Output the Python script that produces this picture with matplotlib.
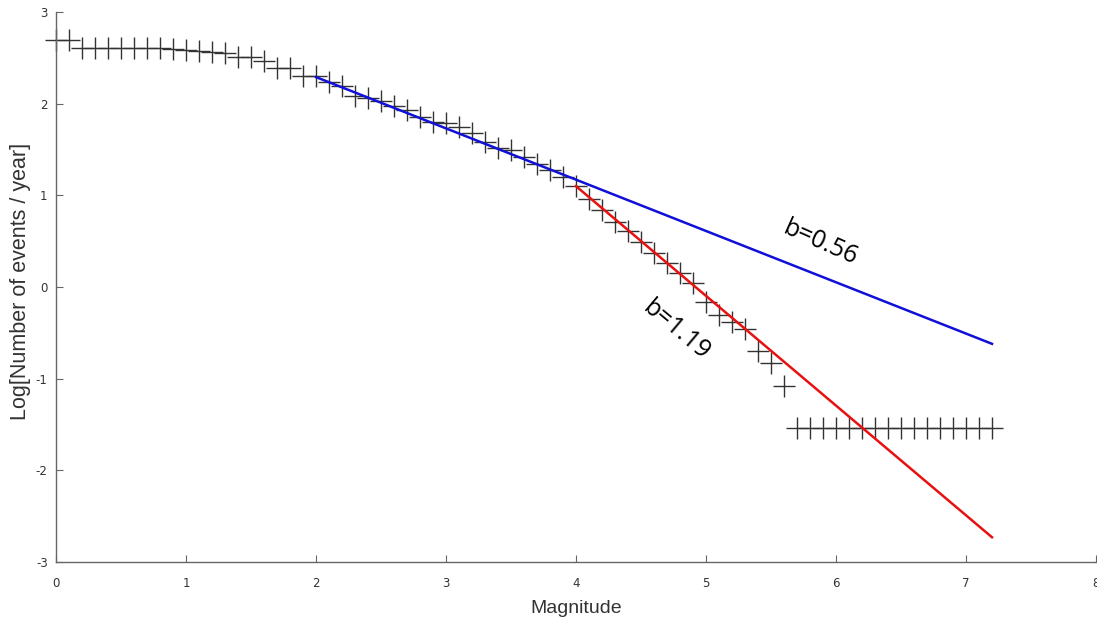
import numpy as np
import matplotlib
matplotlib.use('Agg')
import matplotlib.pyplot as plt

plt.rcParams['axes.unicode_minus'] = False

# Observed cumulative rates (magnitude bins of 0.1)
magnitude = np.round(np.arange(0.0, 7.25, 0.1), 1)
logRate = [2.70, 2.70, 2.61, 2.61, 2.61, 2.61, 2.61, 2.61, 2.61, 2.60,
           2.59, 2.58, 2.56, 2.55, 2.51, 2.51, 2.47, 2.39, 2.39, 2.30,
           2.30, 2.24, 2.19, 2.08, 2.06, 2.03, 1.97, 1.93, 1.86, 1.80,
           1.79, 1.75, 1.68, 1.58, 1.52, 1.49, 1.42, 1.34, 1.28, 1.20,
           1.10, 0.96, 0.84, 0.71, 0.61, 0.49, 0.37, 0.26, 0.15, 0.04,
           -0.16, -0.31, -0.38, -0.46, -0.70, -0.83, -1.08,
           -1.54, -1.54, -1.54, -1.54, -1.54, -1.54, -1.54, -1.54,
           -1.54, -1.54, -1.54, -1.54, -1.54, -1.54, -1.54, -1.54]

# Gutenberg-Richter fits
blueFitX = [2.0, 7.2]
blueFitY = [2.29, -0.62]
redFitX = [4.0, 7.2]
redFitY = [1.10, -2.73]

xTicks = [0, 1, 2, 3, 4, 5, 6, 7, 8]
yTicks = [-3, -2, -1, 0, 1, 2, 3]

fig = plt.figure(figsize=(10.97, 6.26), dpi=100)
ax = fig.add_axes([56/1097, 1 - 562/626, 1040/1097, 550/626])

ax.plot(magnitude, logRate, linestyle='none', marker='+', markersize=16,
        markeredgewidth=1.0, color='#333333', clip_on=False)
ax.plot(blueFitX, blueFitY, color='#1010d8', linewidth=1.8)
ax.plot(redFitX, redFitY, color='#e81010', linewidth=1.8)

ax.text(5.88, 0.48, 'b=0.56', rotation=-24, fontsize=18, family='Open Sans',
        ha='center', va='center')
ax.text(4.77, -0.47, 'b=1.19', rotation=-40, fontsize=18, family='Open Sans',
        ha='center', va='center')

ax.set_xlim(0, 8)
ax.set_ylim(-3, 3)
ax.set_xticks(xTicks)
ax.set_yticks(yTicks)
for s in ['top', 'right']:
    ax.spines[s].set_visible(False)
for s in ['left', 'bottom']:
    ax.spines[s].set_color('#666666')
    ax.spines[s].set_linewidth(1.0)
ax.tick_params(axis='both', direction='in', length=5, color='#666666',
               labelsize=8.5, labelcolor='#333333')
ax.tick_params(axis='x', pad=11)
ax.tick_params(axis='y', pad=6)

ax.set_xlabel('Magnitude', fontsize=14, color='#333333', family='Liberation Sans')
ax.xaxis.set_label_coords(0.50, -0.069)
ax.set_ylabel('Log[Number of events / year]', fontsize=15.5, color='#333333',
              family='Liberation Sans')
ax.yaxis.set_label_coords(-0.024, 0.51)

fig.savefig('out.png', dpi=100)
